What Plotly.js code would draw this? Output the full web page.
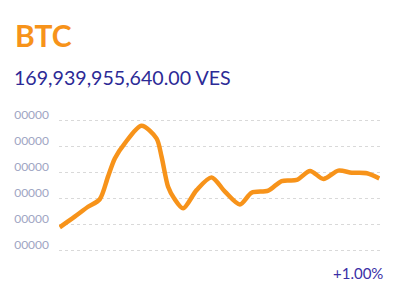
<!DOCTYPE html>
<html>
<head>
<meta charset="utf-8">
<script src="https://cdn.plot.ly/plotly-3.0.1.min.js"></script>
<style>
html,body{margin:0;padding:0;background:#fff;}
#chart{width:398px;height:295px;}
</style>
</head>
<body>
<div id="chart"></div>
<script>
// Data (time index, price in grid units)
var times  = [0, 1.13, 2.13, 3.01, 3.63, 4.14, 4.89, 6.14, 7.27, 7.65, 8.14, 8.59, 9.27, 10.28, 11.41, 12.41, 13.53, 14.41, 15.66, 16.67, 17.80, 18.80, 19.80, 20.92, 21.93, 23.06, 24.0];
var prices = [0.90, 1.31, 1.69, 1.98, 2.85, 3.55, 4.13, 4.81, 4.32, 3.62, 2.46, 2.02, 1.63, 2.33, 2.82, 2.27, 1.78, 2.23, 2.31, 2.68, 2.72, 3.07, 2.76, 3.08, 3.00, 2.98, 2.78];
var tickVals  = [0, 1, 2, 3, 4, 5];
var tickTexts = ["00000", "00000", "00000", "00000", "00000", "00000"];
var coinName = "BTC";
var priceText = "169,939,955,640.00 VES";
var changeText = "+1.00%";

var trace = {
  x: times, y: prices, type: 'scatter', mode: 'lines',
  line: {color: '#f7931a', width: 4.5, shape: 'spline', smoothing: 0.8},
  hoverinfo: 'skip'
};

var layout = {
  width: 398, height: 295,
  margin: {l: 59, r: 18, t: 110, b: 35},
  paper_bgcolor: '#ffffff', plot_bgcolor: '#ffffff',
  showlegend: false,
  font: {family: 'Lato, sans-serif'},
  xaxis: {range: [-0.05, 24.05], showgrid: false, zeroline: false, showticklabels: false, showline: false, ticks: ''},
  yaxis: {
    range: [-0.358, 5.412], tickvals: tickVals, ticktext: tickTexts,
    showgrid: true, gridcolor: '#d9d9d9', gridwidth: 1.5, griddash: 'dot',
    zeroline: false, showline: false, ticks: '',
    tickfont: {family: 'Lato, sans-serif', size: 12, color: '#a0a5c3'},
    ticklabelshift: -6, ticklabelstandoff: 9
  },
  annotations: [
    {text: '<b>' + coinName + '</b>', xref: 'paper', yref: 'paper', x: (13-59)/321, y: (260-35)/150,
     xanchor: 'left', yanchor: 'middle', showarrow: false,
     font: {family: 'Lato, sans-serif', size: 30, color: '#f7931a'}},
    {text: priceText, xref: 'paper', yref: 'paper', x: (12-59)/321, y: (260-77)/150,
     xanchor: 'left', yanchor: 'middle', showarrow: false,
     font: {family: 'Lato, sans-serif', size: 19.6, color: '#2c2a96'}},
    {text: changeText, xref: 'paper', yref: 'paper', x: (385-59)/321, y: (260-273)/150,
     xanchor: 'right', yanchor: 'middle', showarrow: false,
     font: {family: 'Lato, sans-serif', size: 15, color: '#3b2fa6'}}
  ]
};

Plotly.newPlot('chart', [trace], layout, {displayModeBar: false, staticPlot: true});
</script>
</body>
</html>
